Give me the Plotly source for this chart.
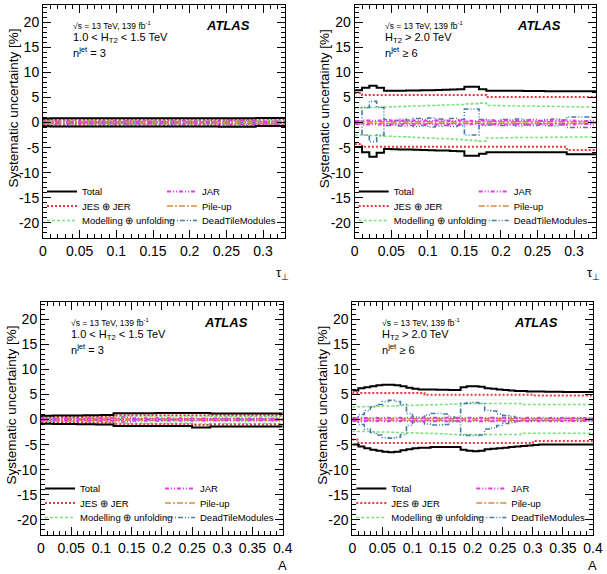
import plotly.graph_objects as go

# ---------------- data ----------------
tau_edges = [0.00, 0.01, 0.02, 0.03, 0.04, 0.05, 0.06, 0.07, 0.08, 0.09, 0.10,
             0.11, 0.12, 0.13, 0.14, 0.15, 0.16, 0.17, 0.18, 0.19, 0.20,
             0.21, 0.22, 0.23, 0.24, 0.25, 0.26, 0.27, 0.28, 0.29, 0.30,
             0.31, 0.32, 0.33]
a_edges = [0.00, 0.01, 0.02, 0.03, 0.04, 0.05, 0.06, 0.07, 0.08, 0.09, 0.10,
           0.11, 0.12, 0.13, 0.14, 0.15, 0.16, 0.17, 0.18, 0.19, 0.20,
           0.21, 0.22, 0.23, 0.24, 0.25, 0.26, 0.27, 0.28, 0.29, 0.30,
           0.31, 0.32, 0.33, 0.34, 0.35, 0.36, 0.37, 0.38, 0.39, 0.40]

# Panel 1: tau_perp, 1.0 < HT2 < 1.5 TeV, njet = 3  (33 bins)
p1_total_up = [0.80, 0.85, 0.85, 0.85, 0.85, 0.85, 0.85, 0.85, 0.85, 0.85, 0.85,
               0.85, 0.85, 0.85, 0.85, 0.85, 0.85, 0.85, 0.85, 0.85, 0.85,
               0.85, 0.85, 0.85, 0.85, 0.85, 0.85, 0.85, 0.85, 0.90, 0.90, 0.90, 0.90]
p1_total_dn = [-0.75, -0.80, -0.80, -0.80, -0.80, -0.80, -0.80, -0.80, -0.80, -0.80, -0.80,
               -0.80, -0.80, -0.80, -0.80, -0.80, -0.80, -0.80, -0.80, -0.80, -0.80,
               -0.80, -0.80, -0.80, -0.85, -0.85, -0.85, -0.85, -0.85, -0.70, -0.70, -0.70, -0.70]
p1_jes_up = [0.55, 0.60, 0.60, 0.60, 0.60, 0.60, 0.60, 0.60, 0.60, 0.60, 0.60,
             0.60, 0.60, 0.60, 0.60, 0.60, 0.60, 0.60, 0.60, 0.60, 0.60,
             0.60, 0.60, 0.60, 0.60, 0.60, 0.60, 0.60, 0.60, 0.65, 0.65, 0.65, 0.65]
p1_jes_dn = [-0.55, -0.60, -0.60, -0.60, -0.60, -0.60, -0.60, -0.60, -0.60, -0.60, -0.60,
             -0.60, -0.60, -0.60, -0.60, -0.60, -0.60, -0.60, -0.60, -0.60, -0.60,
             -0.60, -0.60, -0.60, -0.65, -0.65, -0.65, -0.65, -0.65, -0.55, -0.55, -0.55, -0.55]
p1_mod_up = [0.40, 0.40, 0.40, 0.40, 0.40, 0.40, 0.40, 0.40, 0.40, 0.40, 0.40,
             0.40, 0.40, 0.40, 0.40, 0.40, 0.40, 0.40, 0.40, 0.40, 0.40,
             0.40, 0.40, 0.40, 0.40, 0.40, 0.40, 0.40, 0.40, 0.45, 0.45, 0.45, 0.45]
p1_mod_dn = [-0.40, -0.40, -0.40, -0.40, -0.40, -0.40, -0.40, -0.40, -0.40, -0.40, -0.40,
             -0.40, -0.40, -0.40, -0.40, -0.40, -0.40, -0.40, -0.40, -0.40, -0.40,
             -0.40, -0.40, -0.40, -0.45, -0.45, -0.45, -0.45, -0.45, -0.40, -0.40, -0.40, -0.40]
p1_jar_up = [0.20, 0.25, 0.20, 0.25, 0.20, 0.25, 0.20, 0.25, 0.20, 0.25, 0.20,
             0.25, 0.20, 0.25, 0.20, 0.25, 0.20, 0.25, 0.20, 0.25, 0.20,
             0.25, 0.20, 0.25, 0.35, 0.40, 0.35, 0.40, 0.35, 0.25, 0.20, 0.25, 0.20]
p1_jar_dn = [-0.20, -0.25, -0.20, -0.25, -0.20, -0.25, -0.20, -0.25, -0.20, -0.25, -0.20,
             -0.25, -0.20, -0.25, -0.20, -0.25, -0.20, -0.25, -0.20, -0.25, -0.20,
             -0.25, -0.20, -0.25, -0.35, -0.40, -0.35, -0.40, -0.35, -0.25, -0.20, -0.25, -0.20]
p1_pu_up = [0.15] * 33
p1_pu_dn = [-0.15] * 33
p1_dt_up = [0.05] * 33
p1_dt_dn = [-0.05] * 33

# Panel 2: tau_perp, HT2 > 2.0 TeV, njet >= 6  (33 bins)
p2_total_up = [6.4, 6.9, 7.3, 6.9, 6.3, 6.3, 6.3, 6.35, 6.35, 6.4, 6.4,
               6.45, 6.5, 6.55, 6.6, 7.1, 7.1, 6.6, 6.3, 6.3, 6.3,
               6.3, 6.3, 6.25, 6.25, 6.25, 6.2, 6.2, 6.2, 6.2, 6.2, 6.2, 6.2]
p2_total_dn = [-4.9, -5.9, -6.8, -6.0, -5.3, -5.35, -5.4, -5.4, -5.45, -5.5, -5.55,
               -5.6, -5.6, -5.65, -5.7, -6.6, -6.6, -6.2, -5.9, -5.9, -5.9,
               -5.9, -5.9, -5.9, -5.9, -5.9, -5.9, -5.9, -5.9, -6.3, -6.3, -6.3, -6.3]
p2_jes_up = [5.9, 5.5, 5.5, 5.5, 5.5, 5.5, 5.5, 5.5, 5.5, 5.5, 5.5,
             5.5, 5.5, 5.5, 5.5, 5.5, 5.5, 5.5, 5.1, 5.1, 5.1,
             5.1, 5.1, 5.1, 5.1, 5.1, 5.1, 5.1, 5.1, 5.1, 5.1, 5.1, 5.1]
p2_jes_dn = [-4.3, -4.85, -4.85, -4.85, -4.85, -4.85, -4.85, -4.85, -4.85, -4.85, -4.85,
             -4.85, -4.85, -4.85, -4.85, -4.85, -4.85, -4.85, -4.85, -4.85, -4.85,
             -4.85, -4.85, -4.85, -4.85, -4.85, -4.85, -4.85, -4.85, -5.5, -5.5, -5.5, -5.5]
p2_mod_up = [2.9, 2.95, 3.0, 3.05, 3.1, 3.15, 3.2, 3.25, 3.3, 3.35, 3.4,
             3.45, 3.5, 3.55, 3.6, 3.7, 3.75, 3.85, 3.4, 3.4, 3.35,
             3.35, 3.3, 3.3, 3.3, 3.25, 3.25, 3.2, 3.2, 3.15, 3.15, 3.1, 3.1]
p2_mod_dn = [-2.5, -2.55, -2.6, -2.7, -2.75, -2.8, -2.85, -2.9, -3.0, -3.05, -3.1,
             -3.2, -3.25, -3.3, -3.4, -3.5, -3.6, -3.7, -3.1, -3.1, -3.05,
             -3.05, -3.0, -3.0, -3.0, -3.0, -2.95, -2.95, -2.95, -2.9, -2.9, -2.9, -2.9]
p2_jar_up = [0.3, 0.4, 0.35, 0.4, 0.3, 0.4, 0.35, 0.3, 0.4, 0.35, 0.3,
             0.4, 0.35, 0.3, 0.4, 0.35, 0.3, 0.4, 0.35, 0.3, 0.4,
             0.35, 0.3, 0.4, 0.35, 0.3, 0.4, 0.35, 0.3, 0.4, 0.35, 0.3, 0.35]
p2_jar_dn = [-0.3, -0.4, -0.35, -0.4, -0.3, -0.4, -0.35, -0.3, -0.4, -0.35, -0.3,
             -0.4, -0.35, -0.3, -0.4, -0.35, -0.3, -0.4, -0.35, -0.3, -0.4,
             -0.35, -0.3, -0.4, -0.35, -0.3, -0.4, -0.35, -0.3, -0.4, -0.35, -0.3, -0.35]
p2_pu_up = [0.15] * 33
p2_pu_dn = [-0.15] * 33
p2_dt_up = [0.3, 3.0, 4.2, 3.0, 0.6, 0.4, 0.7, 0.5, 0.8, 0.6, 0.9,
            0.7, 0.5, 0.8, 0.6, 2.7, 2.7, 0.6, 0.5, 0.4, 0.6,
            0.5, 0.7, 0.5, 0.6, 0.4, 0.6, 0.7, 0.5, 1.1, 1.1, 1.1, 1.1]
p2_dt_dn = [-0.3, -2.5, -3.8, -2.5, -0.6, -0.5, -0.7, -0.6, -0.8, -0.6, -0.9,
            -0.7, -0.6, -0.8, -0.6, -2.5, -2.5, -0.6, -0.5, -0.5, -0.6,
            -0.5, -0.7, -0.5, -0.6, -0.5, -0.6, -0.7, -0.5, -1.0, -1.0, -1.0, -1.0]

# Panel 3: A, 1.0 < HT2 < 1.5 TeV, njet = 3  (40 bins)
p3_total_up = [0.75, 0.75, 0.8, 0.8, 0.8, 0.8, 0.8, 0.85, 0.85, 0.85, 0.9, 0.9,
               1.25, 1.25, 1.25, 1.25, 1.25, 1.25, 1.25, 1.3, 1.3, 1.3, 1.3, 1.3,
               1.3, 1.3, 1.3, 1.3, 1.2, 1.2, 1.2, 1.2, 1.2, 1.2, 1.2, 1.2,
               1.2, 1.2, 1.2, 1.2]
p3_total_dn = [-0.85, -0.85, -0.9, -0.9, -0.9, -0.9, -0.95, -0.95, -0.95, -1.0, -1.0, -1.0,
               -1.3, -1.3, -1.3, -1.3, -1.3, -1.3, -1.3, -1.3, -1.3, -1.3, -1.3, -1.3,
               -1.3, -1.6, -1.6, -1.6, -1.4, -1.4, -1.4, -1.4, -1.4, -1.4, -1.4, -1.4,
               -1.4, -1.4, -1.4, -1.4]
p3_jes_up = [0.55, 0.55, 0.55, 0.55, 0.55, 0.55, 0.55, 0.6, 0.6, 0.6, 0.6, 0.6,
             0.85, 0.85, 0.85, 0.85, 0.85, 0.85, 0.85, 0.85, 0.85, 0.85, 0.85, 0.85,
             0.85, 0.85, 0.85, 0.85, 0.85, 0.85, 0.85, 0.85, 0.85, 0.85, 0.85, 0.85,
             0.85, 0.85, 0.85, 0.85]
p3_jes_dn = [-0.6, -0.6, -0.6, -0.6, -0.6, -0.6, -0.6, -0.65, -0.65, -0.65, -0.65, -0.65,
             -0.95, -0.95, -0.95, -0.95, -0.95, -0.95, -0.95, -0.95, -0.95, -0.95, -0.95, -0.95,
             -0.95, -1.1, -1.1, -1.1, -1.0, -1.0, -1.0, -1.0, -1.0, -1.0, -1.0, -1.0,
             -1.0, -1.0, -1.0, -1.0]
p3_mod_up = [0.4, 0.4, 0.4, 0.4, 0.4, 0.4, 0.45, 0.45, 0.45, 0.45, 0.45, 0.45,
             0.7, 0.7, 0.7, 0.7, 0.7, 0.7, 0.7, 0.7, 0.7, 0.7, 0.7, 0.7,
             0.7, 0.7, 0.7, 0.7, 0.65, 0.65, 0.65, 0.65, 0.65, 0.65, 0.65, 0.65,
             0.65, 0.65, 0.65, 0.65]
p3_mod_dn = [-0.45, -0.45, -0.45, -0.45, -0.45, -0.45, -0.5, -0.5, -0.5, -0.5, -0.5, -0.5,
             -0.75, -0.75, -0.75, -0.75, -0.75, -0.75, -0.75, -0.75, -0.75, -0.75, -0.75, -0.75,
             -0.75, -0.9, -0.9, -0.9, -0.8, -0.8, -0.8, -0.8, -0.8, -0.8, -0.8, -0.8,
             -0.8, -0.8, -0.8, -0.8]
p3_jar_up = [0.2, 0.25, 0.2, 0.25, 0.2, 0.25, 0.2, 0.25, 0.2, 0.25, 0.2, 0.25,
             0.4, 0.45, 0.4, 0.25, 0.2, 0.25, 0.2, 0.25, 0.2, 0.25, 0.2, 0.25,
             0.2, 0.25, 0.2, 0.25, 0.2, 0.25, 0.2, 0.25, 0.2, 0.25, 0.2, 0.25,
             0.2, 0.25, 0.2, 0.25]
p3_jar_dn = [-0.2, -0.25, -0.2, -0.25, -0.2, -0.25, -0.2, -0.25, -0.2, -0.25, -0.2, -0.25,
             -0.4, -0.45, -0.4, -0.25, -0.2, -0.25, -0.2, -0.25, -0.2, -0.25, -0.2, -0.25,
             -0.2, -0.25, -0.2, -0.25, -0.2, -0.25, -0.2, -0.25, -0.2, -0.25, -0.2, -0.25,
             -0.2, -0.25, -0.2, -0.25]
p3_pu_up = [0.15] * 40
p3_pu_dn = [-0.15] * 40
p3_dt_up = [0.05] * 40
p3_dt_dn = [-0.05] * 40

# Panel 4: A, HT2 > 2.0 TeV, njet >= 6  (40 bins)
p4_total_up = [5.8, 6.2, 6.4, 6.6, 6.8, 6.9, 6.9, 6.8, 6.6, 6.3, 6.1, 6.0,
               6.0, 6.0, 5.95, 5.95, 5.9, 5.9, 6.4, 6.6, 6.6, 6.5, 6.2, 6.1,
               6.0, 5.9, 5.8, 5.7, 5.7, 5.6, 5.6, 5.6, 5.55, 5.55, 5.55, 5.5,
               5.5, 5.5, 5.5, 5.5]
p4_total_dn = [-5.0, -5.4, -5.7, -6.0, -6.2, -6.4, -6.5, -6.4, -6.1, -5.9, -5.7, -5.6,
               -5.6, -5.5, -5.5, -5.5, -5.5, -5.5, -6.0, -6.2, -6.3, -6.2, -5.9, -5.8,
               -5.7, -5.6, -5.5, -5.4, -5.3, -5.2, -5.1, -5.0, -5.0, -5.0, -5.0, -5.0,
               -5.0, -5.0, -5.0, -5.0]
p4_jes_up = [5.3, 5.3, 5.3, 5.3, 5.3, 5.3, 5.3, 5.3, 5.3, 5.3, 5.3, 5.3,
             4.95, 4.95, 4.95, 4.95, 4.95, 4.95, 4.95, 4.95, 4.95, 4.95, 4.95, 4.95,
             4.95, 4.95, 4.95, 4.95, 4.95, 4.95, 4.8, 4.8, 4.8, 4.8, 4.8, 4.8,
             4.8, 4.8, 4.8, 4.8]
p4_jes_dn = [-4.0, -4.7, -4.7, -4.7, -4.7, -4.7, -4.7, -4.7, -4.7, -4.7, -4.7, -4.7,
             -4.7, -4.7, -4.7, -4.7, -4.7, -4.7, -4.7, -4.7, -4.7, -4.7, -4.7, -4.7,
             -4.7, -4.7, -4.7, -4.7, -4.7, -4.7, -4.3, -4.3, -4.3, -4.3, -4.3, -4.3,
             -4.3, -4.3, -4.3, -4.3]
p4_mod_up = [2.5, 2.55, 2.6, 2.6, 2.65, 2.7, 2.7, 2.75, 2.8, 2.8, 2.85, 2.9,
             2.9, 2.95, 3.0, 3.0, 3.05, 3.1, 3.2, 3.2, 3.2, 3.2, 3.2, 3.2,
             3.2, 3.2, 3.2, 3.2, 3.0, 3.0, 3.0, 3.0, 3.0, 3.0, 3.0, 3.0,
             3.0, 3.0, 3.0, 3.0]
p4_mod_dn = [-2.35, -2.4, -2.4, -2.45, -2.5, -2.5, -2.55, -2.6, -2.6, -2.65, -2.7, -2.75,
             -2.75, -2.8, -2.85, -2.9, -2.95, -3.0, -3.0, -3.0, -3.0, -3.0, -3.0, -3.0,
             -3.0, -3.0, -3.0, -3.0, -2.75, -2.75, -2.75, -2.75, -2.75, -2.75, -2.75, -2.75,
             -2.75, -2.75, -2.75, -2.75]
p4_jar_up = [0.3, 0.35, 0.3, 0.35, 0.3, 0.35, 0.3, 0.35, 0.3, 0.35, 0.3, 0.35,
             0.3, 0.35, 0.3, 0.35, 0.3, 0.35, 0.3, 0.35, 0.3, 0.35, 0.3, 0.35,
             0.3, 0.35, 0.3, 0.35, 0.3, 0.35, 0.3, 0.35, 0.3, 0.35, 0.3, 0.35,
             0.3, 0.35, 0.3, 0.35]
p4_jar_dn = [-0.3, -0.35, -0.3, -0.35, -0.3, -0.35, -0.3, -0.35, -0.3, -0.35, -0.3, -0.35,
             -0.3, -0.35, -0.3, -0.35, -0.3, -0.35, -0.3, -0.35, -0.3, -0.35, -0.3, -0.35,
             -0.3, -0.35, -0.3, -0.35, -0.3, -0.35, -0.3, -0.35, -0.3, -0.35, -0.3, -0.35,
             -0.3, -0.35, -0.3, -0.35]
p4_pu_up = [0.15] * 40
p4_pu_dn = [-0.15] * 40
p4_dt_up = [0.3, 1.0, 1.8, 2.5, 3.0, 3.6, 3.8, 3.6, 3.0, 1.2, 0.5, 0.4,
            0.9, 1.2, 1.2, 1.1, 0.5, 0.3, 3.2, 3.3, 3.4, 3.2, 1.8, 1.7,
            1.1, 0.8, 0.6, 0.3, 0.2, 0.2, 0.2, 0.2, 0.2, 0.2, 0.2, 0.2,
            0.2, 0.2, 0.2, 0.2]
p4_dt_dn = [-0.3, -1.0, -1.9, -2.6, -3.1, -3.6, -3.7, -3.5, -3.0, -1.2, -0.5, -0.4,
            -0.9, -1.1, -1.1, -1.0, -0.5, -0.3, -3.1, -3.2, -3.2, -3.1, -1.9, -1.7,
            -1.2, -0.8, -0.6, -0.3, -0.2, -0.2, -0.2, -0.2, -0.2, -0.2, -0.2, -0.2,
            -0.2, -0.2, -0.2, -0.2]

y_tickvals = [-20, -15, -10, -5, 0, 5, 10, 15, 20]
y_ticktext = ["-20", "-15", "-10", "-5", "0", "5", "10", "15", "20"]
tau_tickvals = [0, 0.05, 0.1, 0.15, 0.2, 0.25, 0.3]
tau_ticktext = ["0", "0.05", "0.1", "0.15", "0.2", "0.25", "0.3"]
a_tickvals = [0, 0.05, 0.1, 0.15, 0.2, 0.25, 0.3, 0.35, 0.4]
a_ticktext = ["0", "0.05", "0.1", "0.15", "0.2", "0.25", "0.3", "0.35", "0.4"]

region_low = ["1.0 < H<sub>T2</sub> < 1.5 TeV", "n<sup>jet</sup> = 3"]
region_high = ["H<sub>T2</sub> > 2.0 TeV", "n<sup>jet</sup> ≥ 6"]

# ---------------- styles / layout ----------------
W, H = 607, 574
FONT = "Liberation Sans, Arial, Helvetica, sans-serif"

styles = {
    "Total": dict(color="black", width=2.0, dash="solid"),
    "JES ⊕ JER": dict(color="#e8383d", width=2.0, dash="2px,2px"),
    "Modelling ⊕ unfolding": dict(color="#79e379", width=1.6, dash="3px,2px"),
    "JAR": dict(color="#e23be2", width=1.8, dash="4px,2px,1px,2px,1px,2px"),
    "Pile-up": dict(color="#d98a3a", width=1.6, dash="6px,2px,2px,2px"),
    "DeadTileModules": dict(color="#3f7ea6", width=1.6, dash="5px,2px,1px,2px,1px,2px"),
}
draw_order = ["Modelling ⊕ unfolding", "DeadTileModules", "Pile-up", "JAR", "JES ⊕ JER", "Total"]
legend_rows = [["Total", "JAR"], ["JES ⊕ JER", "Pile-up"],
               ["Modelling ⊕ unfolding", "DeadTileModules"]]

# panel pixel boxes: left, right, top, bottom ; x-title offset below axis
panels = [
    dict(box=(43, 285, 5, 238), edges=tau_edges, xr=[0, 0.33], tv=tau_tickvals, tt=tau_ticktext,
         xt="τ<sub>⊥</sub>", xto=36, region=region_low,
         data={"Total": (p1_total_up, p1_total_dn), "JES ⊕ JER": (p1_jes_up, p1_jes_dn),
               "Modelling ⊕ unfolding": (p1_mod_up, p1_mod_dn), "JAR": (p1_jar_up, p1_jar_dn),
               "Pile-up": (p1_pu_up, p1_pu_dn), "DeadTileModules": (p1_dt_up, p1_dt_dn)}),
    dict(box=(354.7, 596, 5, 238), edges=tau_edges, xr=[0, 0.33], tv=tau_tickvals, tt=tau_ticktext,
         xt="τ<sub>⊥</sub>", xto=36, region=region_high,
         data={"Total": (p2_total_up, p2_total_dn), "JES ⊕ JER": (p2_jes_up, p2_jes_dn),
               "Modelling ⊕ unfolding": (p2_mod_up, p2_mod_dn), "JAR": (p2_jar_up, p2_jar_dn),
               "Pile-up": (p2_pu_up, p2_pu_dn), "DeadTileModules": (p2_dt_up, p2_dt_dn)}),
    dict(box=(41, 282.7, 302, 535), edges=a_edges, xr=[0, 0.4], tv=a_tickvals, tt=a_ticktext,
         xt="A", xto=30, region=region_low,
         data={"Total": (p3_total_up, p3_total_dn), "JES ⊕ JER": (p3_jes_up, p3_jes_dn),
               "Modelling ⊕ unfolding": (p3_mod_up, p3_mod_dn), "JAR": (p3_jar_up, p3_jar_dn),
               "Pile-up": (p3_pu_up, p3_pu_dn), "DeadTileModules": (p3_dt_up, p3_dt_dn)}),
    dict(box=(352.3, 593, 302, 535), edges=a_edges, xr=[0, 0.4], tv=a_tickvals, tt=a_ticktext,
         xt="A", xto=30, region=region_high,
         data={"Total": (p4_total_up, p4_total_dn), "JES ⊕ JER": (p4_jes_up, p4_jes_dn),
               "Modelling ⊕ unfolding": (p4_mod_up, p4_mod_dn), "JAR": (p4_jar_up, p4_jar_dn),
               "Pile-up": (p4_pu_up, p4_pu_dn), "DeadTileModules": (p4_dt_up, p4_dt_dn)}),
]

fig = go.Figure()
layout = dict(width=W, height=H, margin=dict(l=0, r=0, t=0, b=0, autoexpand=False),
              paper_bgcolor="white", plot_bgcolor="white",
              font=dict(family=FONT, color="black"), annotations=[])

for pi, p in enumerate(panels):
    L, R, T, B = p["box"]
    xa = "x" if pi == 0 else f"x{pi+1}"
    ya = "y" if pi == 0 else f"y{pi+1}"
    xkey = "xaxis" if pi == 0 else f"xaxis{pi+1}"
    ykey = "yaxis" if pi == 0 else f"yaxis{pi+1}"
    edges = p["edges"]

    leg_of = {}
    for ri, row in enumerate(legend_rows):
        k = pi * 3 + ri + 1
        lid = "legend" if k == 1 else f"legend{k}"
        for name in row:
            leg_of[name] = (lid, row.index(name))
        row_y = B - 46.5 + ri * 14.5  # row centre (px)
        layout[lid] = dict(orientation="h", x=(L - 1) / W, y=1 - row_y / H,
                           xanchor="left", yanchor="middle", xref="paper", yref="paper",
                           entrywidth=75, entrywidthmode="pixels", itemwidth=30,
                           font=dict(family=FONT, size=9.5, color="black"),
                           bgcolor="rgba(0,0,0,0)", borderwidth=0, traceorder="normal")

    for name in draw_order:
        up, dn = p["data"][name]
        st = styles[name]
        lid, rank = leg_of[name]
        for j, vals in enumerate((up, dn)):
            fig.add_trace(go.Scatter(
                x=edges, y=list(vals) + [vals[-1]], mode="lines",
                line=dict(shape="hv", color=st["color"], width=st["width"], dash=st["dash"]),
                name=name, legendgroup=f"{pi}-{name}", showlegend=(j == 0),
                legend=lid, legendrank=rank + 1, xaxis=xa, yaxis=ya, hoverinfo="skip"))

    layout[xkey] = dict(domain=[L / W, R / W], anchor=ya, range=p["xr"],
                        tickvals=p["tv"], ticktext=p["tt"], ticks="inside", ticklen=8,
                        tickwidth=1, tickcolor="black", showline=True, linecolor="black",
                        linewidth=1, mirror="ticks", showgrid=False, zeroline=False,
                        tickfont=dict(family=FONT, size=14, color="black"),
                        minor=dict(dtick=0.01, ticks="inside", ticklen=4, tickcolor="black",
                                   tickwidth=1, showgrid=False))
    layout[ykey] = dict(domain=[1 - B / H, 1 - T / H], anchor=xa, range=[-23, 23.4],
                        tickvals=y_tickvals, ticktext=y_ticktext, ticks="inside", ticklen=8,
                        tickwidth=1, tickcolor="black", showline=True, linecolor="black",
                        linewidth=1, mirror="ticks", showgrid=False, zeroline=False,
                        tickfont=dict(family=FONT, size=14, color="black"),
                        minor=dict(dtick=1, ticks="inside", ticklen=4, tickcolor="black",
                                   tickwidth=1, showgrid=False))

    xd = f"{xa} domain"
    yd = f"{ya} domain"
    ph = B - T
    ann = layout["annotations"]
    ann.append(dict(xref=xd, yref=yd, x=28 / (R - L), y=1 - 20 / ph, xanchor="left",
                    yanchor="middle", showarrow=False,
                    text="√s = 13 TeV, 139 fb<sup>-1</sup>", font=dict(family=FONT, size=8.5)))
    ann.append(dict(xref=xd, yref=yd, x=28 / (R - L), y=1 - 32.5 / ph, xanchor="left",
                    yanchor="middle", showarrow=False, text=p["region"][0],
                    font=dict(family=FONT, size=11)))
    ann.append(dict(xref=xd, yref=yd, x=28 / (R - L), y=1 - 46.5 / ph, xanchor="left",
                    yanchor="middle", showarrow=False, text=p["region"][1],
                    font=dict(family=FONT, size=11)))
    ann.append(dict(xref=xd, yref=yd, x=1 - 33 / (R - L), y=1 - 20 / ph, xanchor="right",
                    yanchor="middle", showarrow=False, text="<b><i>ATLAS</i></b>",
                    font=dict(family=FONT, size=13)))
    ann.append(dict(xref=xd, yref=yd, x=1 + 6 / (R - L), y=-p["xto"] / ph, xanchor="right",
                    yanchor="middle", showarrow=False, text=p["xt"],
                    font=dict(family=FONT, size=13)))
    ann.append(dict(xref="paper", yref="paper", x=(L - 30) / W, y=1 - (T + 22) / H,
                    xanchor="center", yanchor="top", textangle=-90, showarrow=False,
                    text="Systematic uncertainty [%]", font=dict(family=FONT, size=13.5)))

fig.update_layout(**layout)
fig.write_html("out.html", config={"displayModeBar": False},
               post_script="document.body.style.margin='0px';")
